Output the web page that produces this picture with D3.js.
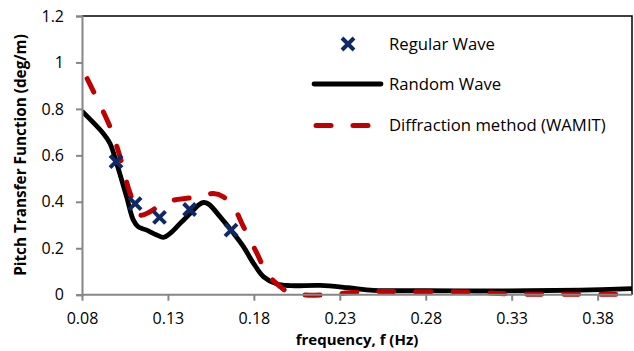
<!DOCTYPE html>
<html><head><meta charset="utf-8">
<script src="https://cdn.jsdelivr.net/npm/d3@7"></script>
<style>body{margin:0;background:#fff}svg{display:block}text{font-family:"Open Sans",sans-serif}</style>
</head><body><svg id="c" width="634" height="351"></svg>
<script>
const xTicks = [0.08, 0.13, 0.18, 0.23, 0.28, 0.33, 0.38];
const yTicks = [0, 0.2, 0.4, 0.6, 0.8, 1, 1.2];
const seriesNames = ["Regular Wave", "Random Wave", "Diffraction method (WAMIT)"];

const regularF = [0.0998, 0.1109, 0.1251, 0.1426, 0.1667];
const regularV = [0.573, 0.392, 0.333, 0.367, 0.278];

const randomF = [0.08, 0.0924, 0.0963, 0.1002, 0.106, 0.1099, 0.1128, 0.1177, 0.1235, 0.1274, 0.1313, 0.1371, 0.143, 0.1478, 0.1507, 0.1537, 0.1604, 0.1682, 0.174, 0.1798, 0.1857, 0.1934, 0.2012, 0.2187, 0.235, 0.2496, 0.28, 0.31, 0.34, 0.37, 0.40];
const randomV = [0.79, 0.694, 0.651, 0.565, 0.42, 0.321, 0.292, 0.278, 0.257, 0.247, 0.264, 0.307, 0.35, 0.386, 0.397, 0.39, 0.335, 0.264, 0.206, 0.135, 0.077, 0.046, 0.039, 0.040, 0.030, 0.019, 0.017, 0.016, 0.017, 0.020, 0.026];

const wamitF = [0.083, 0.0963, 0.1021, 0.108, 0.1138, 0.1196, 0.1254, 0.1332, 0.141, 0.1488, 0.1565, 0.1623, 0.1682, 0.174, 0.1818, 0.1876, 0.1954, 0.2012, 0.21, 0.225, 0.235, 0.245, 0.27, 0.30, 0.315, 0.33, 0.36, 0.40];
const wamitV = [0.93, 0.723, 0.594, 0.436, 0.343, 0.357, 0.386, 0.407, 0.415, 0.421, 0.436, 0.421, 0.378, 0.292, 0.178, 0.092, 0.034, 0.006, -0.001, 0.0, 0.008, 0.013, 0.013, 0.012, 0.008, 0.003, 0.002, 0.002];

const svg = d3.select("#c");
const L = 82, R = 632, T = 16, B = 294.7;
const x = d3.scaleLinear().domain([0.08, 0.40]).range([L, R]);
const y = d3.scaleLinear().domain([0, 1.2]).range([B, T]);

// frame top/right
svg.append("path").attr("d", `M${L},${T}H${R}V${B}`).attr("fill","none").attr("stroke","#000").attr("stroke-width",1.5);

svg.append("clipPath").attr("id","pc").append("rect").attr("x",L).attr("y",T-5).attr("width",R-L+1).attr("height",B-T+10);

const line = d3.line().x(d=>x(d[0])).y(d=>y(d[1])).curve(d3.curveCatmullRom.alpha(0.5));
const g = svg.append("g").attr("clip-path","url(#pc)");
g.append("path").datum(randomF.map((f,i)=>[f,randomV[i]])).attr("d",line)
  .attr("fill","none").attr("stroke","#000").attr("stroke-width",4.8).attr("stroke-linejoin","round");
g.append("path").datum(wamitF.map((f,i)=>[f,wamitV[i]])).attr("d",line)
  .attr("fill","none").attr("stroke","#c00000").attr("stroke-width",5).attr("stroke-dasharray","15,22").attr("stroke-linecap","round");

// axes
const ax = svg.append("g").attr("transform",`translate(0,${B})`).call(d3.axisBottom(x).tickValues(xTicks).tickFormat(d3.format(".2f")).tickSize(6).tickPadding(12));
const ay = svg.append("g").attr("transform",`translate(${L},0)`).call(d3.axisLeft(y).tickValues(yTicks).tickFormat(d=>d3.format("")(+d.toFixed(1))).tickSize(6).tickPadding(12));
[ax,ay].forEach(a=>{
  a.select(".domain").attr("stroke","#868686").attr("stroke-width",2);
  a.selectAll(".tick line").attr("stroke","#868686").attr("stroke-width",2);
  a.selectAll("text").attr("font-size",16).attr("fill","#000").attr("font-family","Open Sans");
});
ax.select(".domain").attr("d",`M${L},0H${R}`);

// markers
const xm = svg.append("g");
function cross(sel, cx, cy){
  const s=6;
  sel.append("path").attr("d",`M${cx-s},${cy-s}L${cx+s},${cy+s}M${cx+s},${cy-s}L${cx-s},${cy+s}`)
    .attr("stroke","#0d2a66").attr("stroke-width",4).attr("fill","none");
}
regularF.forEach((f,i)=>cross(xm, x(f), y(regularV[i])));

// legend
const lg = svg.append("g");
cross(lg, 348, 44);
lg.append("line").attr("x1",314).attr("x2",381).attr("y1",84).attr("y2",84).attr("stroke","#000").attr("stroke-width",4.8).attr("stroke-linecap","round");
lg.append("line").attr("x1",316).attr("x2",370).attr("y1",125.5).attr("y2",125.5).attr("stroke","#c00000").attr("stroke-width",5).attr("stroke-dasharray","15,22").attr("stroke-linecap","round");
[44,84,125.5].forEach((yy,i)=>lg.append("text").attr("x",389).attr("y",yy).attr("dy","0.35em").attr("font-size",16.7).text(seriesNames[i]));

// titles
svg.append("text").attr("x",(L+R)/2).attr("y",345).attr("text-anchor","middle").attr("font-weight","bold").attr("font-size",15).text("frequency, f (Hz)");
svg.append("text").attr("transform",`translate(26,155) rotate(-90)`).attr("text-anchor","middle").attr("font-weight","bold").attr("font-size",15.3).text("Pitch Transfer Function (deg/m)");
</script></body></html>
